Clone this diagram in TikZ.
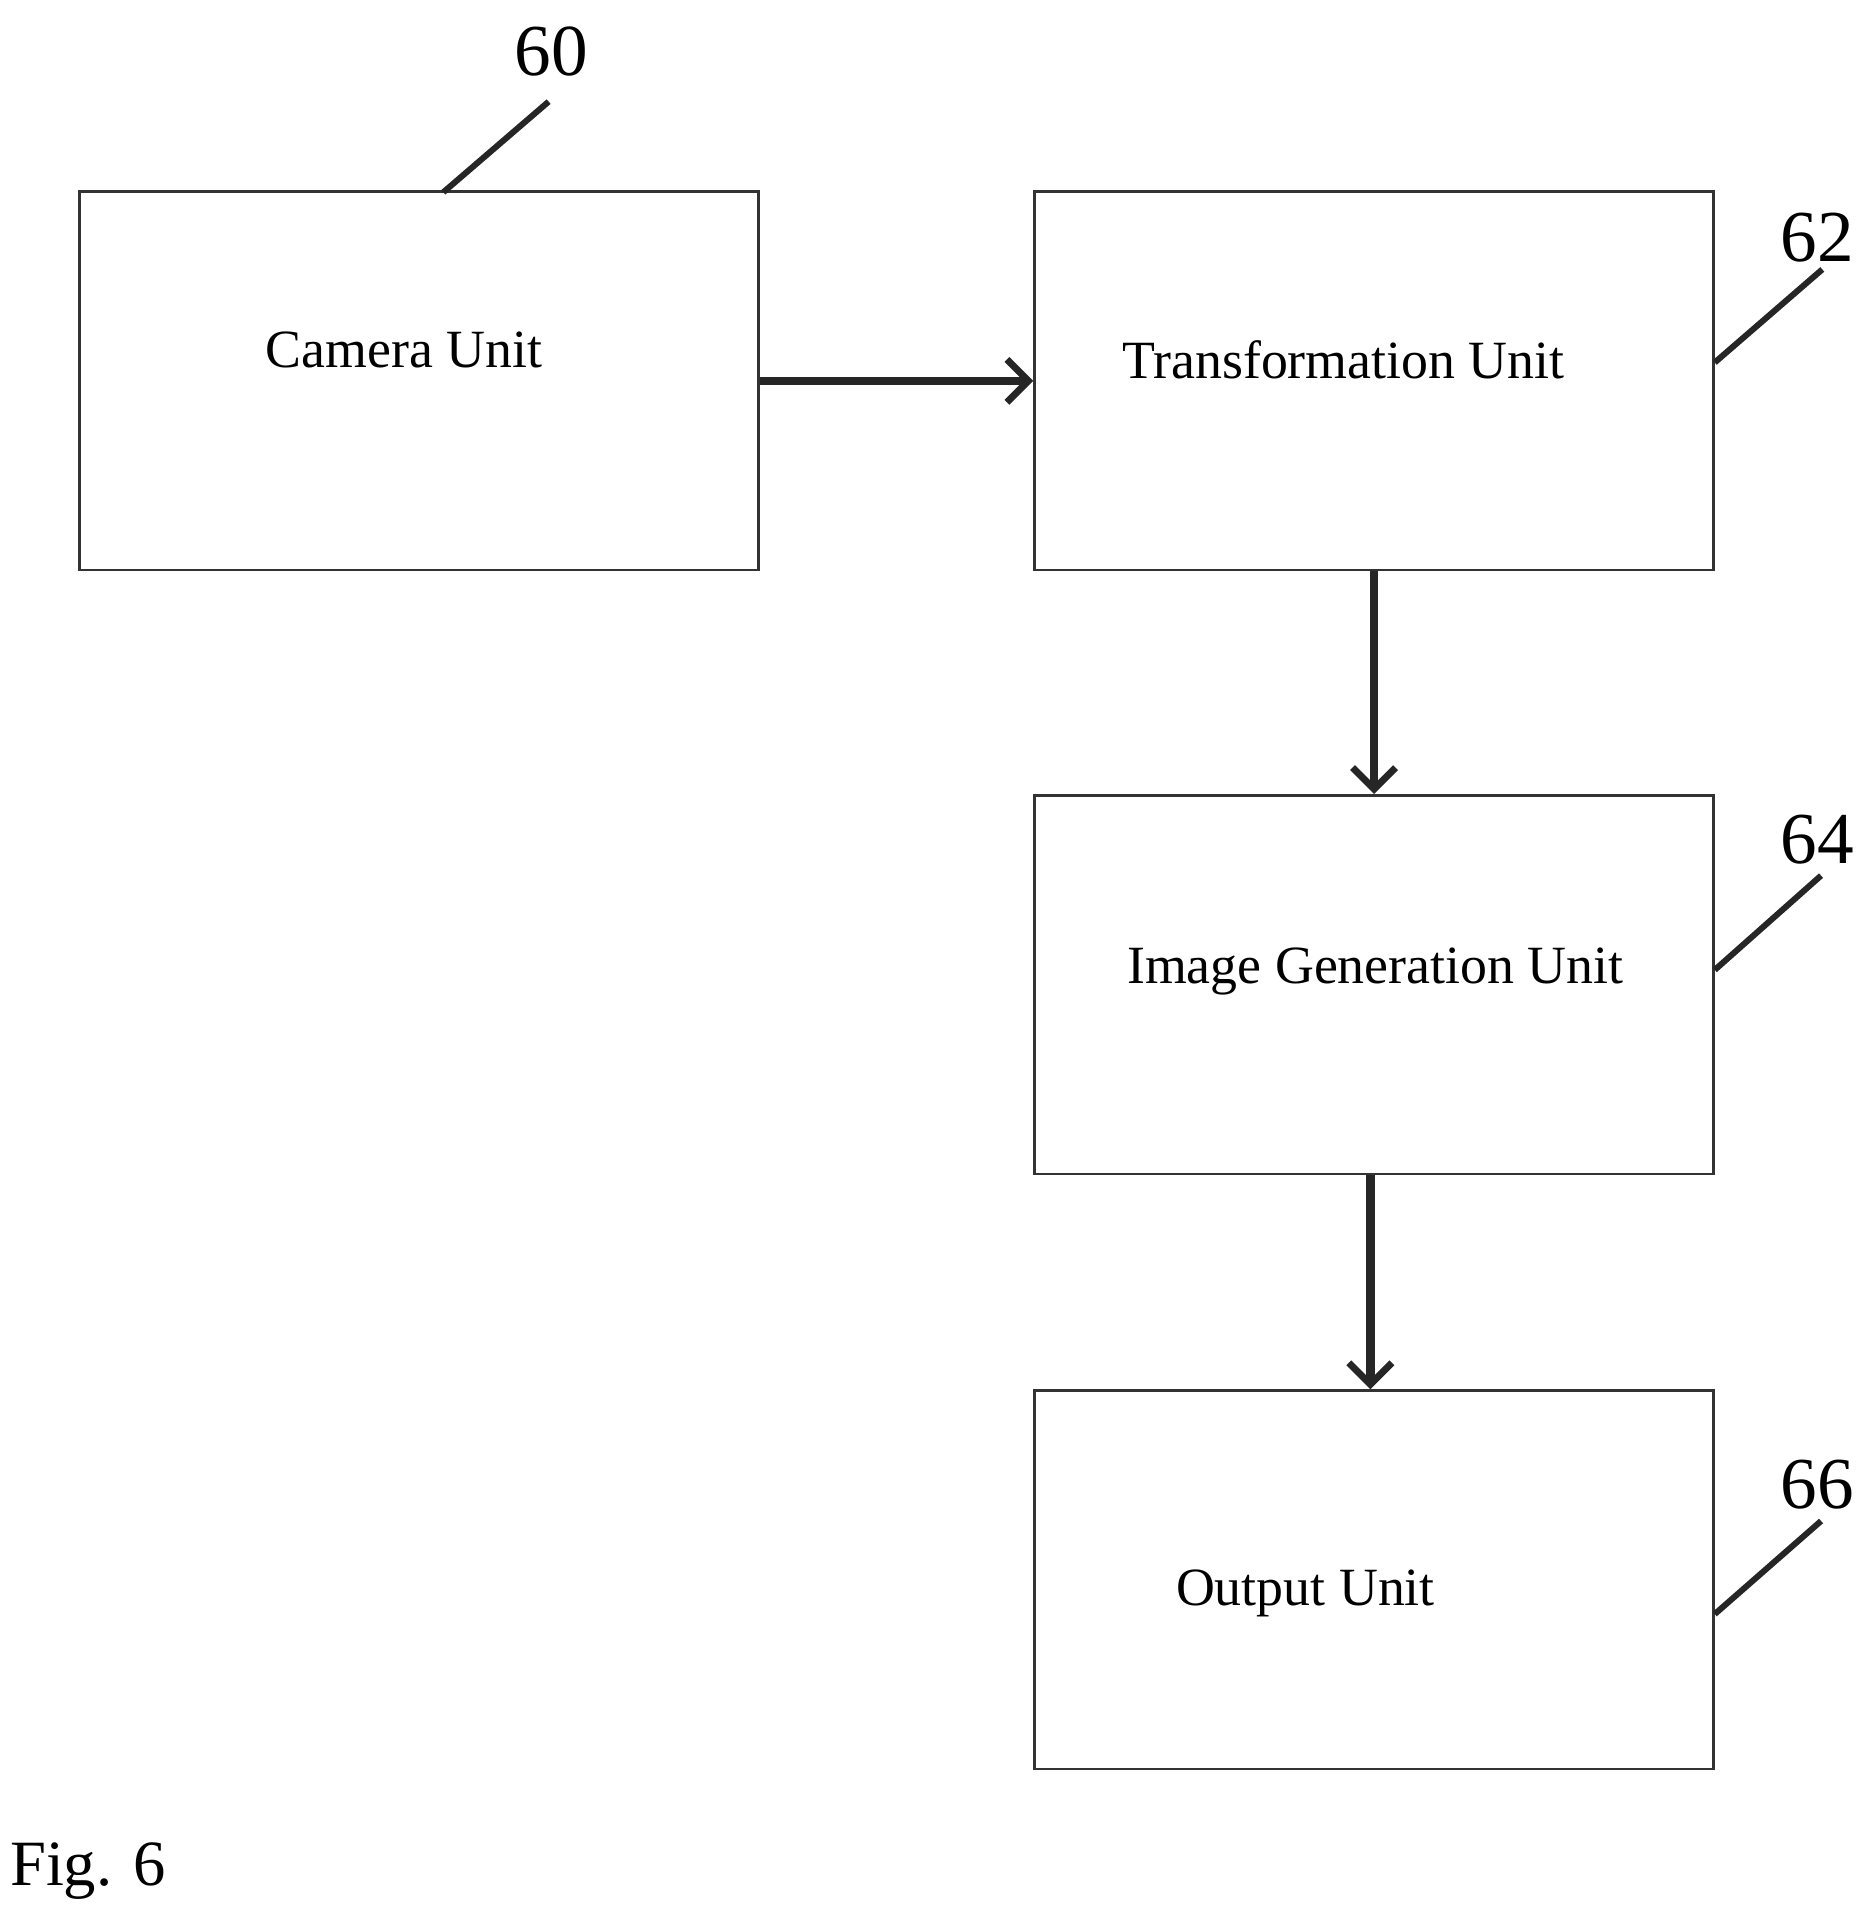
\documentclass[tikz,border=0pt]{standalone}
\usepackage{fontspec}
\setmainfont{Liberation Serif}
\usetikzlibrary{arrows.meta}
\begin{document}
\begin{tikzpicture}[x=0.01cm, y=-0.01cm]
		\tikzset{box/.style={draw=black!80, line width=0.6pt, minimum width=5.54cm, minimum height=3.09cm, inner sep=0pt},
			txt/.style={font=\fontsize{12.5}{14}\selectfont},
			num/.style={font=\fontsize{17}{19}\selectfont},
			lead/.style={line width=1.4pt, black!85},
			arr/.style={line width=2pt, black!85, -{Straight Barb[length=5pt, width=10pt, line width=1.6pt]}}};
		\useasboundingbox (0, 0) rectangle (1530, 1567);

		\node[box] (camera) at (342, 311) {};
		\node[box] (trans) at (1122, 311) {};
		\node[box] (image) at (1122, 804) {};
		\node[box] (output) at (1122, 1290) {};

		\node[txt] (tcamera) at (330, 286) {Camera Unit};
		\node[txt] (ttrans) at (1097, 294) {Transformation Unit};
		\node[txt] (timage) at (1123, 793) {Image Generation Unit};
		\node[txt] (toutput) at (1066, 1301) {Output Unit};

		\draw[arr] (camera.east) -- (trans.west);
		\draw[arr] (trans.south) -- (image.north);
		\draw[arr] ([xshift=-0.03cm]image.south) -- ([xshift=-0.03cm]output.north);

		\node[num] (n60) at (450, 42) {60};
		\node[num] (n62) at (1484, 194) {62};
		\node[num] (n64) at (1484, 686) {64};
		\node[num] (n66) at (1484, 1212) {66};

		\coordinate (e60) at (448, 83);
		\coordinate (e62) at (1488, 220);
		\coordinate (e64) at (1487, 715);
		\coordinate (e66) at (1487, 1242);
		\draw[lead] (362, 157) -- (e60);
		\draw[lead] (trans.east |- 0, 296) -- (e62);
		\draw[lead] (image.east |- 0, 792) -- (e64);
		\draw[lead] (output.east |- 0, 1318) -- (e66);

		\node[num, font=\fontsize{15}{17}\selectfont] (fig) at (72, 1528) {Fig. 6};
	\end{tikzpicture}
\end{document}
